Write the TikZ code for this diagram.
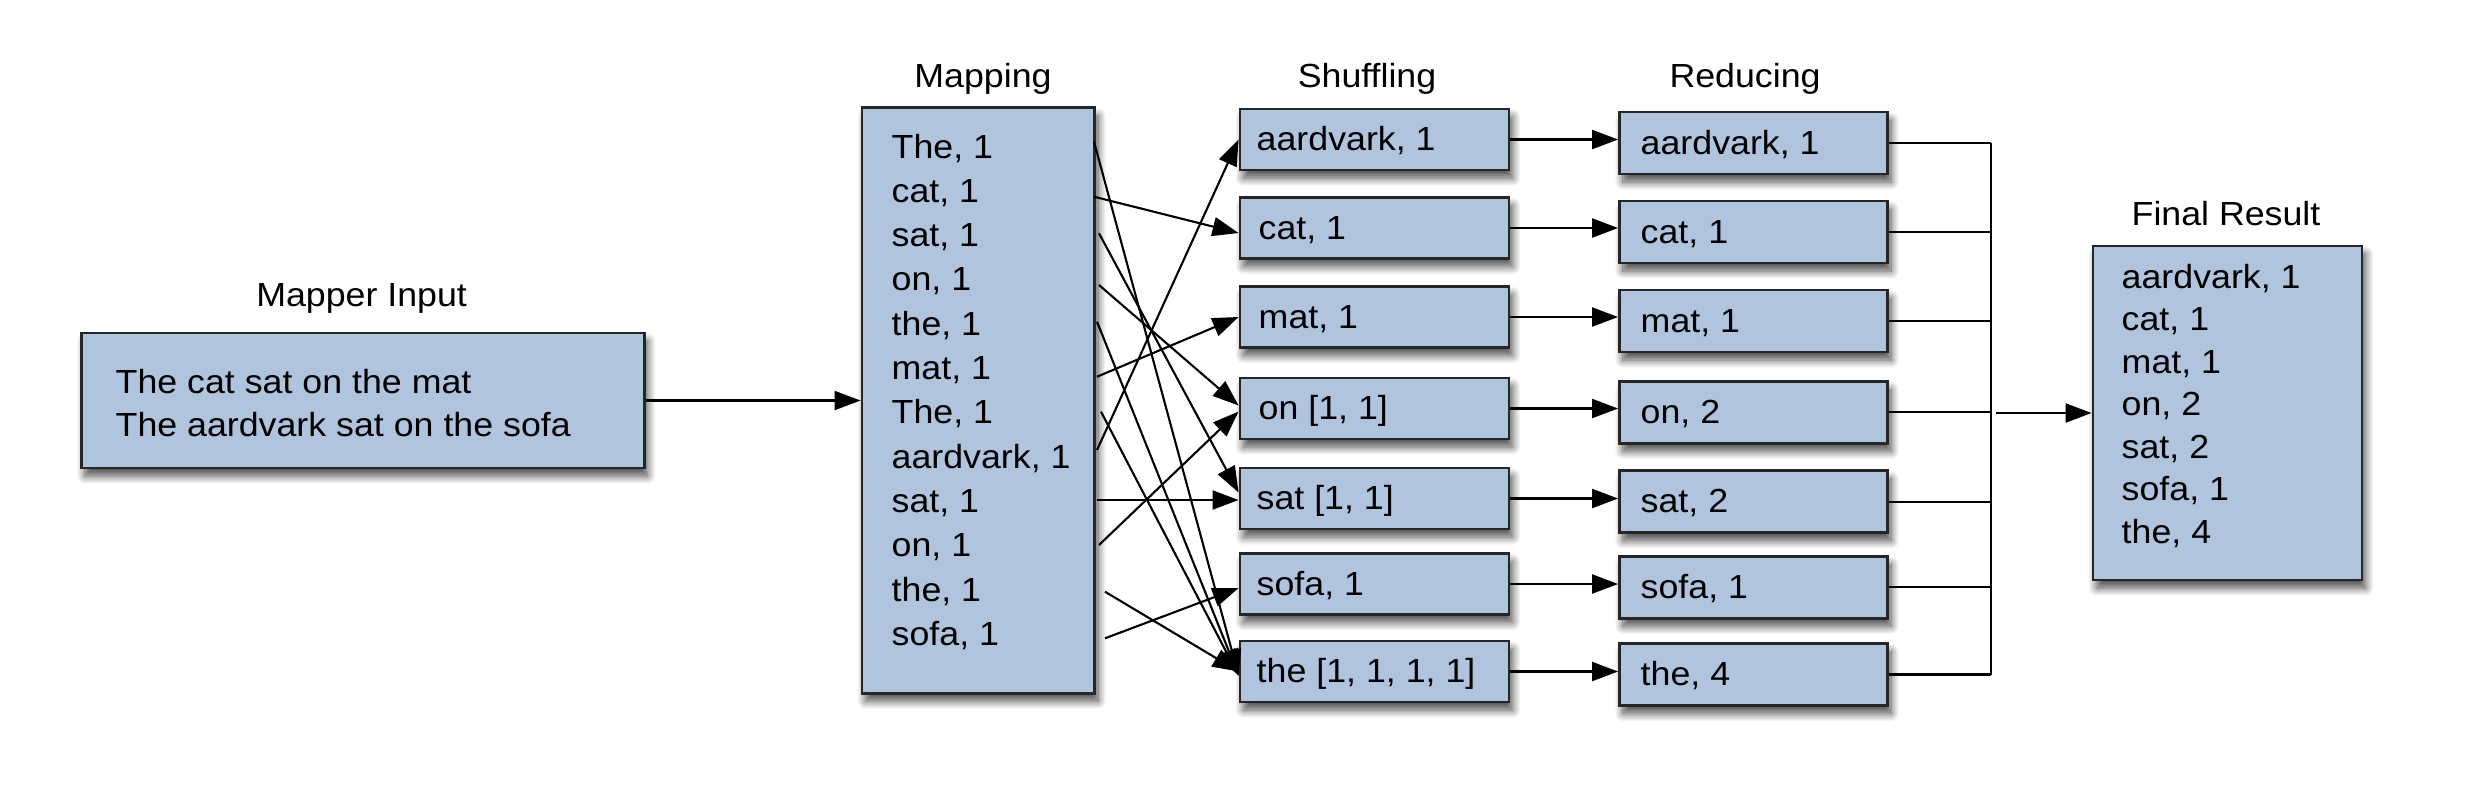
\documentclass[tikz,border=0pt]{standalone}
\usepackage{fontspec}
\setmainfont{Liberation Sans}[FakeStretch=1.07]
\usetikzlibrary{arrows.meta,shadows.blur,calc}
\definecolor{boxfill}{RGB}{176,196,222}
\newcommand\mrfont{\fontsize{9.5pt}{11pt}\selectfont}
\begin{document}
\begin{tikzpicture}[x=0.01cm,y=-0.01cm,
  box/.style={draw=black!85, line width=0.027cm, fill=boxfill, inner sep=0pt, rectangle,
    blur shadow={shadow xshift=0.035cm, shadow yshift=-0.08cm, shadow blur radius=0.08cm,
                 shadow blur steps=12, shadow opacity=70}},
  sbox/.style={box, minimum width=2.69cm, minimum height=0.61cm},
  rbox/.style={box, minimum width=2.68cm, minimum height=0.62cm},
  txt/.style={anchor=base west, inner sep=0pt, font=\mrfont},
  lbl/.style={anchor=base, inner sep=0pt, font=\mrfont},
  arr/.style={line width=0.021cm, -{Triangle[length=0.26cm,width=0.19cm]}},
  ln/.style={line width=0.021cm}]
\useasboundingbox (0,0) rectangle (2476,802);

% Mapper input
\node[box, minimum width=5.625cm, minimum height=1.35cm] (inbox) at (362.75,400.5) {};
\node[lbl] (inlbl) at (361.6,306) {Mapper Input};
\node[txt] (in1) at (115,393) {The cat sat on the mat};
\node[txt] (in2) at (115,436) {The aardvark sat on the sofa};

% Mapping
\node[box, minimum width=2.325cm, minimum height=5.85cm] (map) at (978.25,400.5) {};
\node[lbl] (maplbl) at (983,87) {Mapping};
\foreach \t [count=\i] in {The, cat, sat, on, the, mat, The, aardvark, sat, on, the, sofa}
  \node[txt] (m\i) at (891,{158+44.3*(\i-1)}) {\t, 1};

% Shuffling
\node[lbl] (shlbl) at (1367,87) {Shuffling};
\node[sbox] (s1) at (1374.5,139.5) {};
\node[sbox] (s2) at (1374.5,228) {};
\node[sbox] (s3) at (1374.5,317) {};
\node[sbox] (s4) at (1374.5,408.5) {};
\node[sbox] (s5) at (1374.5,498.5) {};
\node[sbox] (s6) at (1374.5,584) {};
\node[sbox] (s7) at (1374.5,671.5) {};
\node[txt] (st1) at (1256,150.5) {aardvark, 1};
\node[txt] (st2) at (1258,239) {cat, 1};
\node[txt] (st3) at (1258,328) {mat, 1};
\node[txt] (st4) at (1258,419.5) {on [1, 1]};
\node[txt] (st5) at (1256,509.5) {sat [1, 1]};
\node[txt] (st6) at (1256,595) {sofa, 1};
\node[txt] (st7) at (1256,682.5) {the [1, 1, 1, 1]};

% Reducing
\node[lbl] (rdlbl) at (1745,87) {Reducing};
\node[rbox] (r1) at (1753.5,143) {};
\node[rbox] (r2) at (1753.5,232) {};
\node[rbox] (r3) at (1753.5,321) {};
\node[rbox] (r4) at (1753.5,412.3) {};
\node[rbox] (r5) at (1753.5,501.8) {};
\node[rbox] (r6) at (1753.5,587.3) {};
\node[rbox] (r7) at (1753.5,674.5) {};
\node[txt] (rt1) at (1640,154) {aardvark, 1};
\node[txt] (rt2) at (1640,243) {cat, 1};
\node[txt] (rt3) at (1640,332) {mat, 1};
\node[txt] (rt4) at (1640,423.3) {on, 2};
\node[txt] (rt5) at (1640,512.8) {sat, 2};
\node[txt] (rt6) at (1640,598.3) {sofa, 1};
\node[txt] (rt7) at (1640,685.5) {the, 4};

% Final result
\node[box, minimum width=2.69cm, minimum height=3.34cm] (final) at (2227.5,413) {};
\node[lbl] (fnlbl) at (2226,225) {Final Result};
\node[txt] (f1) at (2121,288) {aardvark, 1};
\node[txt] (f2) at (2121,330.5) {cat, 1};
\node[txt] (f3) at (2121,373) {mat, 1};
\node[txt] (f4) at (2121,415.5) {on, 2};
\node[txt] (f5) at (2121,458) {sat, 2};
\node[txt] (f6) at (2121,500.5) {sofa, 1};
\node[txt] (f7) at (2121,543) {the, 4};

% input -> mapping
\draw[arr] (inbox.east) -- (map.west);

% mapping -> shuffling
\coordinate (p1) at (1094,141.7);
\coordinate (p2) at (1094,196.7);
\coordinate (p3) at (1099,233.3);
\coordinate (p4) at (1099,285);
\coordinate (p5) at (1097,321.7);
\coordinate (p6) at (1097,376.7);
\coordinate (p7) at (1101,411.7);
\coordinate (p8) at (1097,450);
\coordinate (p9) at (1097,500);
\coordinate (p10) at (1099,545);
\coordinate (p11) at (1105,591.7);
\coordinate (p12) at (1105,638.3);
\draw[arr] (p1) -- ($(s7.west)+(0,4)$);
\draw[arr] (p2) -- ($(s2.west)+(0,5)$);
\draw[arr] (p3) -- ($(s5.west)+(0,-6)$);
\draw[arr] (p4) -- ($(s4.west)+(0,-3)$);
\draw[arr] (p5) -- ($(s7.west)+(0,4)$);
\draw[arr] (p6) -- (s3.west);
\draw[arr] (p7) -- ($(s7.west)+(0,4)$);
\draw[arr] (p8) -- (s1.west);
\draw[arr] (p9) -- ($(s5.west)+(0,1.5)$);
\draw[arr] (p10) -- ($(s4.west)+(0,3)$);
\draw[arr] (p11) -- (s7.west);
\draw[arr] (p12) -- ($(s6.west)+(0,4)$);

% shuffling -> reducing
\foreach \i in {1,...,7}
  \draw[arr] (s\i.east) -- (s\i.east -| r\i.west);

% reducing -> final
\coordinate (bus) at (1991,0);
\foreach \i in {1,...,7}
  \draw[ln] (r\i.east) -- (r\i.east -| bus);
\draw[ln] (r1.east -| bus) -- (r7.east -| bus);
\coordinate (busout) at (1996,413);
\draw[arr] (busout) -- (final.west);
\end{tikzpicture}
\end{document}
